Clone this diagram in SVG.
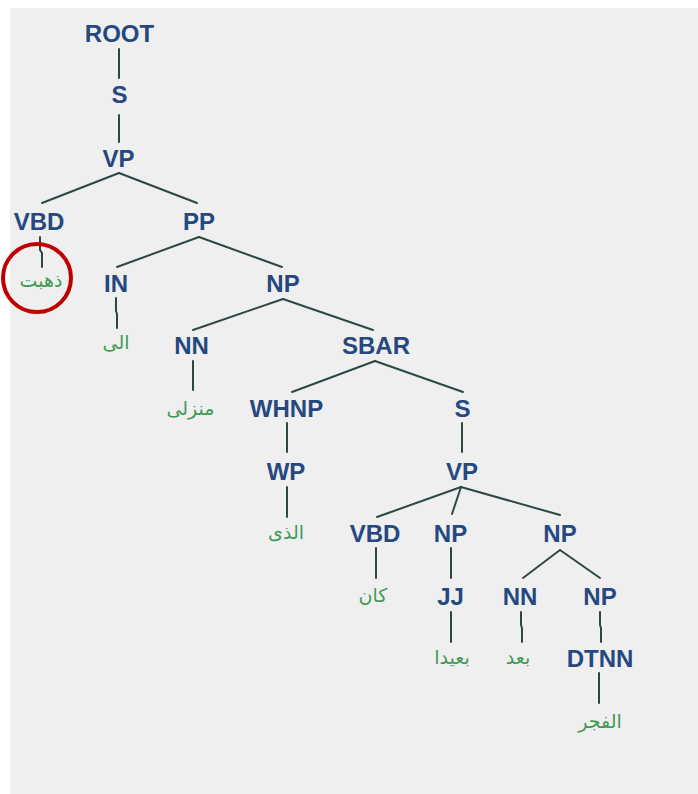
<svg xmlns="http://www.w3.org/2000/svg" width="698" height="794" viewBox="0 0 698 794">
  <style>
    .tag { font-family: "Liberation Sans", Arial, sans-serif; font-weight: bold; font-size: 24px; fill: #24487f; text-anchor: middle; }
    .word { font-family: "DejaVu Sans", "Noto Sans", sans-serif; font-size: 19px; fill: #3f9a55; text-anchor: middle; }
    .edge { stroke: #2d4747; stroke-width: 2; fill: none; stroke-linecap: round; stroke-linejoin: round; }
    .mark { stroke: #c00000; stroke-width: 4; fill: none; }
  </style>

  <rect x="0" y="0" width="698" height="794" fill="#ffffff"/>
  <rect x="10" y="8" width="688" height="786" fill="#efefef"/>

  <!-- tree edges -->
  <g id="connectors">
    <path class="edge" d="M119 49 V78"/>
    <path class="edge" d="M119 115 V142"/>
    <path class="edge" d="M119 173 L42 203"/>
    <path class="edge" d="M119 173 L197 203"/>
    <path class="edge" d="M40 237 V250 L42 253 V267"/>
    <path class="edge" d="M199 237 L117 267"/>
    <path class="edge" d="M199 237 L282 267"/>
    <path class="edge" d="M116 298 V311 L117 314 V328"/>
    <path class="edge" d="M283 299 L193 330"/>
    <path class="edge" d="M283 299 L373 330"/>
    <path class="edge" d="M193 361 V390"/>
    <path class="edge" d="M375 361 L292 392"/>
    <path class="edge" d="M375 361 L463 392"/>
    <path class="edge" d="M287 423 V452"/>
    <path class="edge" d="M462 423 V452"/>
    <path class="edge" d="M287 487 V517"/>
    <path class="edge" d="M461 487 L377 517"/>
    <path class="edge" d="M461 487 L452 514"/>
    <path class="edge" d="M461 487 L560 515"/>
    <path class="edge" d="M376 548 V578"/>
    <path class="edge" d="M451 548 V578"/>
    <path class="edge" d="M560 550 L523 578"/>
    <path class="edge" d="M560 550 L600 578"/>
    <path class="edge" d="M451 612 V642"/>
    <path class="edge" d="M521 612 V625 L522 628 V642"/>
    <path class="edge" d="M600 612 V625 L601 628 V642"/>
    <path class="edge" d="M599 673 V703"/>
  </g>

  <!-- phrase and part-of-speech nodes -->
  <g id="n-root"><text class="tag" x="119.5" y="42">ROOT</text></g>
  <g id="n-s1"><text class="tag" x="119.5" y="103">S</text></g>
  <g id="n-vp1"><text class="tag" x="118.5" y="167">VP</text></g>
  <g id="n-vbd1"><text class="tag" x="39" y="230">VBD</text></g>
  <g id="n-pp"><text class="tag" x="199" y="230">PP</text></g>
  <g id="n-in"><text class="tag" x="116" y="292">IN</text></g>
  <g id="n-np1"><text class="tag" x="283" y="292">NP</text></g>
  <g id="n-nn1"><text class="tag" x="191.5" y="354">NN</text></g>
  <g id="n-sbar"><text class="tag" x="376" y="354">SBAR</text></g>
  <g id="n-whnp"><text class="tag" x="286.5" y="417">WHNP</text></g>
  <g id="n-s2"><text class="tag" x="462.5" y="417">S</text></g>
  <g id="n-wp"><text class="tag" x="286" y="480">WP</text></g>
  <g id="n-vp2"><text class="tag" x="462" y="480">VP</text></g>
  <g id="n-vbd2"><text class="tag" x="375" y="542">VBD</text></g>
  <g id="n-np2"><text class="tag" x="450.5" y="542">NP</text></g>
  <g id="n-np3"><text class="tag" x="560" y="542">NP</text></g>
  <g id="n-jj"><text class="tag" x="450.5" y="605">JJ</text></g>
  <g id="n-nn2"><text class="tag" x="520" y="605">NN</text></g>
  <g id="n-np4"><text class="tag" x="600" y="605">NP</text></g>
  <g id="n-dtnn"><text class="tag" x="600" y="667">DTNN</text></g>

  <!-- leaf words -->
  <g id="w-dhahabt"><text class="word" x="41" y="287">ذهبت</text></g>
  <g id="w-ila"><text class="word" x="116" y="349">الى</text></g>
  <g id="w-manzili"><text class="word" x="190.5" y="415">منزلى</text></g>
  <g id="w-alladhi"><text class="word" x="286" y="539">الذى</text></g>
  <g id="w-kana"><text class="word" x="373" y="602">كان</text></g>
  <g id="w-baidan"><text class="word" x="452" y="664">بعيدا</text></g>
  <g id="w-bad"><text class="word" x="518" y="664">بعد</text></g>
  <g id="w-alfajr"><text class="word" x="600" y="728">الفجر</text></g>

  <!-- highlight ring -->
  <g id="highlight"><circle class="mark" cx="37" cy="278" r="34"/></g>
</svg>
